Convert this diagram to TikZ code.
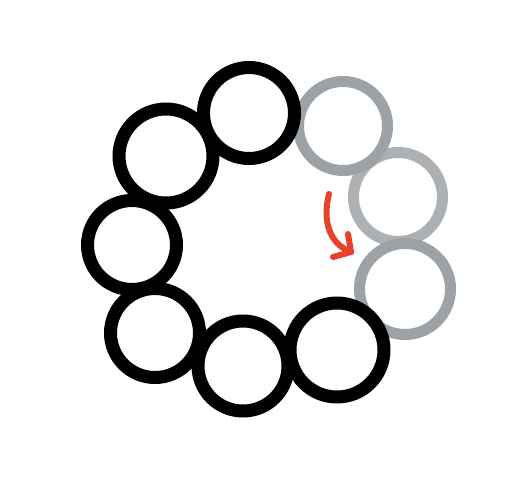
\documentclass[tikz,border=0pt]{standalone}
\usetikzlibrary{calc}
\definecolor{ringgray}{HTML}{9DA2A7}
\definecolor{ringlight}{HTML}{ADB1B4}
\definecolor{arrowred}{HTML}{E8422B}
\begin{document}
\begin{tikzpicture}[x=1pt,y=-1pt,
  ring/.style={circle,draw,inner sep=0pt,minimum size=89pt,line width=13pt},
  blackring/.style={ring,draw=black},
  grayring/.style={ring,draw=ringgray,line width=11pt,minimum size=89pt},
  lightring/.style={grayring,draw=ringlight},
  redarrow/.style={draw=arrowred,line width=6pt,line cap=round,line join=round}]
\useasboundingbox[fill=white] (0,0) rectangle (531,482);
% gray rings
\node[lightring] (g2) at (398,197) {};
\node[grayring] (g1) at (343,126) {};
\node[grayring,minimum size=91pt] (g3) at (405,289) {};
% black rings
\node[blackring,minimum size=94pt] (c2) at (166,156) {};
\node[blackring,minimum size=91pt] (c1) at (249,113) {};
\node[blackring] (c3) at (132,245) {};
\node[blackring] (c4) at (155,333) {};
\node[blackring,minimum size=90pt] (c5) at (243,366) {};
\node[blackring,minimum size=94pt] (c6) at (337,350) {};
% red arrow
\coordinate (a0) at (329,194);
\coordinate (a1) at (351,252);
\coordinate (h1) at (348,234);
\coordinate (h2) at (333,257);
\draw[redarrow] (a0) .. controls (322,222) and (330,244) .. (a1);
\draw[redarrow] (h1) -- (a1) -- (h2);
\end{tikzpicture}
\end{document}
